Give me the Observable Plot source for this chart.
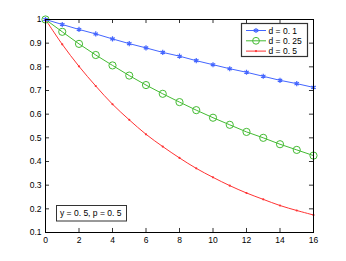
<!DOCTYPE html>
<html><head><meta charset="utf-8">
<script src="https://cdn.jsdelivr.net/npm/d3@7"></script>
<script src="https://cdn.jsdelivr.net/npm/@observablehq/plot@0.6"></script>
<style>body{margin:0;background:#fff;font-family:"Liberation Sans",Arial,sans-serif}</style>
</head><body><div id="c"></div>
<script>
const steps = [0,1,2,3,4,5,6,7,8,9,10,11,12,13,14,15,16];
const d01 = [1,0.979,0.958,0.939,0.918,0.898,0.880,0.861,0.845,0.826,0.809,0.792,0.777,0.760,0.743,0.729,0.713];
const d025 = [1,0.948,0.897,0.850,0.806,0.763,0.723,0.686,0.651,0.617,0.585,0.555,0.525,0.500,0.473,0.449,0.425];
const d05 = [1,0.895,0.802,0.719,0.642,0.576,0.515,0.463,0.415,0.371,0.333,0.298,0.267,0.240,0.214,0.193,0.174];
const seriesNames = ["d = 0. 1","d = 0. 25","d = 0. 5"];
const colors = ["#4466ff","#44bb33","#ff3333"];
const xTicks = [0,2,4,6,8,10,12,14,16];
const yTicks = [0.1,0.2,0.3,0.4,0.5,0.6,0.7,0.8,0.9,1];
const note = "y = 0. 5, p = 0. 5";

const series = [d01,d025,d05];
const rows = series.flatMap((vals,i)=>steps.map((s,j)=>({x:s,y:vals[j],k:seriesNames[i]})));
const byK = k => rows.filter(r=>r.k===k);

const W=346,H=261;
const chart = Plot.plot({
  width:W,height:H,
  marginLeft:45,marginRight:33,marginTop:19,marginBottom:29,
  style:{fontFamily:"Liberation Sans, Arial, sans-serif",fontSize:"8.5px",background:"#fff",color:"#000"},
  x:{domain:[0,16],ticks:xTicks,tickSize:0,tickPadding:4,label:null,tickFormat:d=>String(d)},
  y:{domain:[0.1,1],ticks:yTicks,tickSize:0,tickPadding:4,label:null,tickFormat:d=>d===1?"1":d.toFixed(1)},
  marks:[
    Plot.ruleY(yTicks,{x1:0,x2:0.24,stroke:"#000",strokeWidth:0.8}),
    Plot.ruleY(yTicks,{x1:15.76,x2:16,stroke:"#000",strokeWidth:0.8}),
    Plot.ruleX(xTicks,{y1:0.1,y2:0.117,stroke:"#000",strokeWidth:0.8}),
    Plot.ruleX(xTicks,{y1:0.983,y2:1,stroke:"#000",strokeWidth:0.8}),
    Plot.line(byK(seriesNames[2]),{x:"x",y:"y",stroke:colors[2],strokeWidth:1,curve:"catmull-rom"}),
    Plot.dot(byK(seriesNames[2]),{x:"x",y:"y",fill:colors[2],r:1.1}),
    Plot.line(byK(seriesNames[1]),{x:"x",y:"y",stroke:colors[1],strokeWidth:1}),
    Plot.dot(byK(seriesNames[1]),{x:"x",y:"y",stroke:colors[1],fill:"none",r:3.6,strokeWidth:1}),
    Plot.line(byK(seriesNames[0]),{x:"x",y:"y",stroke:colors[0],strokeWidth:1}),
    Plot.dot(byK(seriesNames[0]),{x:"x",y:"y",stroke:colors[0],symbol:"asterisk",r:2.4,strokeWidth:1.2}),
    Plot.frame({stroke:"#000",strokeWidth:1})
  ]
});
const svg = d3.select(chart);
// legend
const lg = svg.append("g").attr("text-anchor","start");
lg.append("rect").attr("x",241.5).attr("y",23.5).attr("width",66).attr("height",33).attr("fill","#fff").attr("stroke","#333").attr("stroke-width",1.2);
seriesNames.forEach((n,i)=>{
  const yy = 30.5 + i*10.3;
  lg.append("line").attr("x1",246).attr("x2",266).attr("y1",yy).attr("y2",yy).attr("stroke",colors[i]).attr("stroke-width",1);
  if(i===0){
    for(let a=0;a<3;a++){const ang=a*Math.PI/3+Math.PI/2;lg.append("line").attr("x1",256-2.5*Math.cos(ang)).attr("x2",256+2.5*Math.cos(ang)).attr("y1",yy-2.5*Math.sin(ang)).attr("y2",yy+2.5*Math.sin(ang)).attr("stroke",colors[0]).attr("stroke-width",1.2);}
  } else if(i===1){
    lg.append("circle").attr("cx",256).attr("cy",yy).attr("r",3.4).attr("fill","none").attr("stroke",colors[1]);
  } else {
    lg.append("circle").attr("cx",256).attr("cy",yy).attr("r",1.1).attr("fill",colors[2]);
  }
  lg.append("text").attr("x",268.5).attr("y",yy+3).attr("text-anchor","start").attr("font-size","8.5px").attr("fill","#000").text(n);
});
// annotation
const an = svg.append("g").attr("text-anchor","start");
an.append("rect").attr("x",56.5).attr("y",205.5).attr("width",70).attr("height",15.5).attr("fill","#fff").attr("stroke","#333").attr("stroke-width",1);
an.append("text").attr("x",60).attr("y",216).attr("text-anchor","start").attr("font-size","8.5px").attr("fill","#000").text(note);
document.getElementById("c").appendChild(chart);
</script></body></html>
